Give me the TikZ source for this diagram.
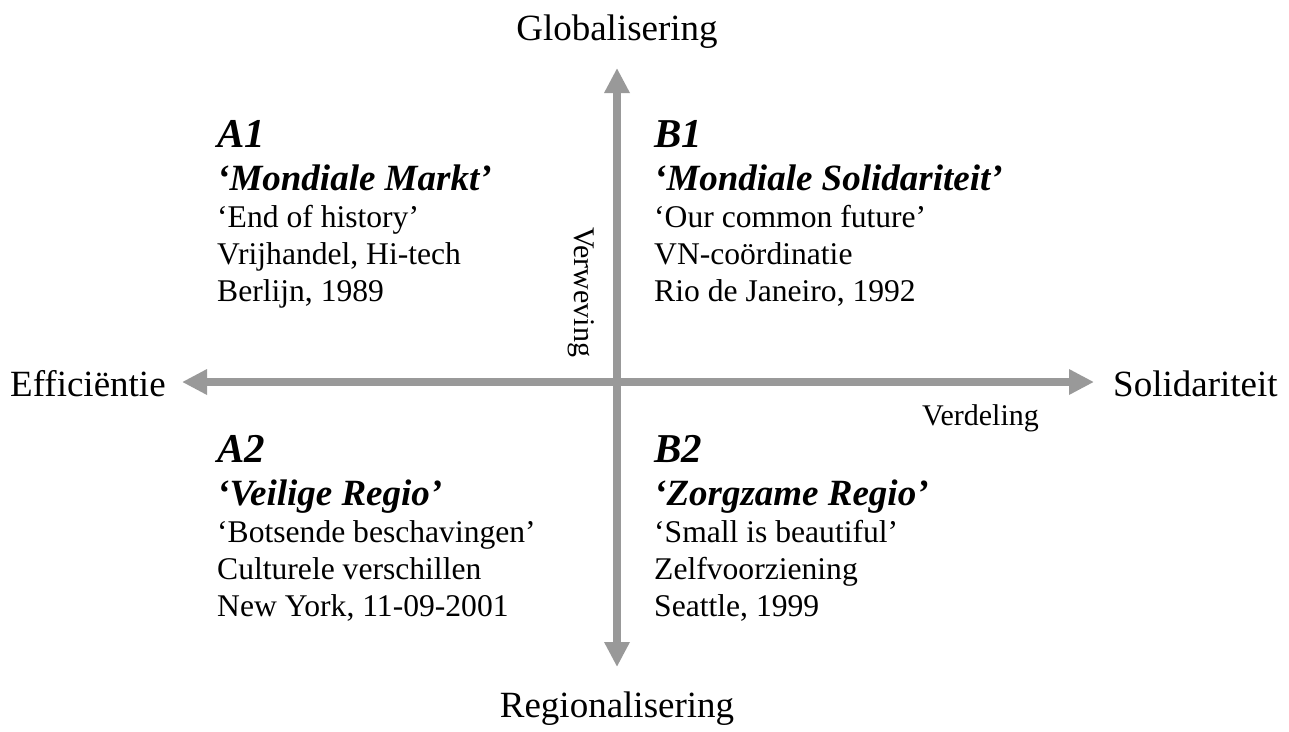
\documentclass[tikz,border=0pt]{standalone}
\usepackage{fontspec}
\setmainfont{Liberation Serif}
\usetikzlibrary{arrows.meta}
\definecolor{axisgray}{RGB}{153,153,153}
\begin{document}
\begin{tikzpicture}[x=1pt,y=-1pt,
  axisline/.style={draw=axisgray, line width=8pt,
    {Triangle[length=25pt,width=24pt]}-{Triangle[length=25pt,width=24pt]}},
  axislabel/.style={inner sep=0pt, anchor=base, font=\fontsize{37}{44}\selectfont},
  sublabel/.style={inner sep=0pt, font=\fontsize{30}{36}\selectfont},
  code/.style={inner sep=0pt, anchor=base west, font=\fontsize{41}{48}\bfseries\itshape},
  title/.style={inner sep=0pt, anchor=base west, font=\fontsize{37}{44}\bfseries\itshape},
  body/.style={inner sep=0pt, anchor=base west, font=\fontsize{31.6}{37}\selectfont}
]
\useasboundingbox (0,0) rectangle (1289,731);

% axes
\coordinate (L) at (182,382);
\coordinate (R) at (1094,382);
\coordinate (T) at (617,68);
\coordinate (B) at (617,667);
\draw[axisline] (L) -- (R);
\draw[axisline] (B) -- (T);

% axis labels
\node[axislabel] (glob) at (617,40) {Globalisering};
\node[axislabel] (reg) at (617,717) {Regionalisering};
\node[axislabel, anchor=base west] (eff) at (10,396) {Efficiëntie};
\node[axislabel, anchor=base west] (sol) at (1113,396) {Solidariteit};
\node[sublabel, anchor=base west] (verd) at (922,425) {Verdeling};
\node[sublabel, rotate=-90] (verw) at (581,292) {Verweving};

% A1
\node[code]  (a1)  at (217,147) {A1};
\node[title] (a1t) at (217,190) {‘Mondiale Markt’};
\node[body]  (a1a) at (217,227) {‘End of history’};
\node[body]  (a1b) at (217,264) {Vrijhandel, Hi-tech};
\node[body]  (a1c) at (217,301) {Berlijn, 1989};

% B1
\node[code]  (b1)  at (654,147) {B1};
\node[title] (b1t) at (654,190) {‘Mondiale Solidariteit’};
\node[body]  (b1a) at (654,227) {‘Our common future’};
\node[body]  (b1b) at (654,264) {VN-coördinatie};
\node[body]  (b1c) at (654,301) {Rio de Janeiro, 1992};

% A2
\node[code]  (a2)  at (217,462) {A2};
\node[title] (a2t) at (217,505) {‘Veilige Regio’};
\node[body]  (a2a) at (217,542) {‘Botsende beschavingen’};
\node[body]  (a2b) at (217,579) {Culturele verschillen};
\node[body]  (a2c) at (217,616) {New York, 11-09-2001};

% B2
\node[code]  (b2)  at (654,462) {B2};
\node[title] (b2t) at (654,505) {‘Zorgzame Regio’};
\node[body]  (b2a) at (654,542) {‘Small is beautiful’};
\node[body]  (b2b) at (654,579) {Zelfvoorziening};
\node[body]  (b2c) at (654,616) {Seattle, 1999};
\end{tikzpicture}
\end{document}
